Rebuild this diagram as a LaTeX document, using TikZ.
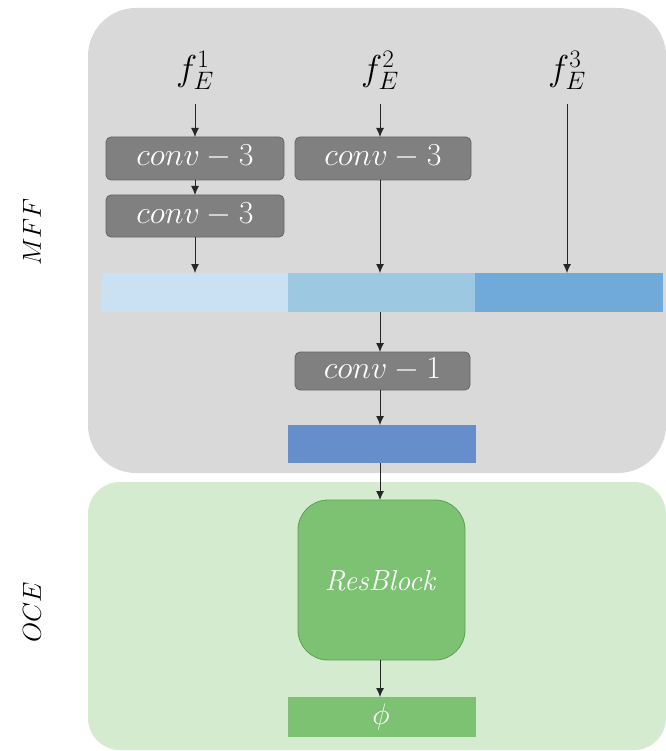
\RequirePackage{fix-cm}
\documentclass[tikz,border=0pt]{standalone}
\usetikzlibrary{arrows.meta}
\definecolor{panelgray}{HTML}{D9D9D9}
\definecolor{panelgreen}{HTML}{D5EBCF}
\definecolor{convfill}{HTML}{808080}
\definecolor{convdraw}{HTML}{666666}
\definecolor{barA}{HTML}{C9E1F2}
\definecolor{barB}{HTML}{9DC8E2}
\definecolor{barC}{HTML}{6FAADA}
\definecolor{barD}{HTML}{668ECB}
\definecolor{resfill}{HTML}{7DC273}
\definecolor{resdraw}{HTML}{5E9E55}
\tikzset{
  convbox/.style={fill=convfill, draw=convdraw, line width=0.8pt, rounded corners=5pt},
  convtext/.style={text=white, font=\fontsize{32}{36}\selectfont, inner sep=0pt},
  conn/.style={-{Latex[length=9pt,width=8pt]}, line width=0.9pt, draw=black!85},
  feat/.style={font=\fontsize{36}{40}\selectfont, inner sep=0pt},
  sidelabel/.style={font=\fontsize{26}{30}\selectfont, rotate=90}
}
\begin{document}
\begin{tikzpicture}[x=1pt,y=-1pt]
  \useasboundingbox (0,0) rectangle (665,751);
  % panels
  \fill[panelgray, rounded corners=48pt] (88,8) rectangle (666,473);
  \fill[panelgreen, rounded corners=32pt] (88,482) rectangle (666,750);
  \node[sidelabel] (mff) at (32,232) {$MFF$};
  \node[sidelabel] (oce) at (32,612) {$OCE$};
  % input features
  \node[feat] (f1) at (195,70) {$f_E^1$};
  \node[feat] (f2) at (380,70) {$f_E^2$};
  \node[feat] (f3) at (567,70) {$f_E^3$};
  \coordinate (f1s) at (195,104);
  \coordinate (f2s) at (380,104);
  \coordinate (f3s) at (567,104);
  % convolutions
  \path[convbox] (106,137) rectangle (284,180);
  \node[convtext] (c1) at (195,157) {$conv-3$};
  \path[convbox] (106,195) rectangle (284,237);
  \node[convtext] (c2) at (195,215) {$conv-3$};
  \path[convbox] (295,137) rectangle (471,180);
  \node[convtext] (c3) at (383,157) {$conv-3$};
  % concatenated feature bar
  \fill[barA] (102,273) rectangle (289,312);
  \fill[barB] (288,273) rectangle (476,312);
  \fill[barC] (475,273) rectangle (663,312);
  \coordinate (b1) at (195,273);
  \coordinate (b2) at (380,273);
  \coordinate (b3) at (567,273);
  \coordinate (b2o) at (380,312);
  % fusion
  \path[convbox] (295,352) rectangle (470,390);
  \node[convtext] (c4) at (382.5,370) {$conv-1$};
  \fill[barD] (288,425) rectangle (476,463);
  \coordinate (d1) at (380,425);
  \coordinate (d2) at (380,463);
  % OCE
  \path[fill=resfill, draw=resdraw, line width=0.8pt, rounded corners=30pt] (298,500) rectangle (465,660);
  \node[text=white, font=\fontsize{29}{32}\selectfont] (rb) at (381.5,580) {$\mathit{ResBlock}$};
  \fill[resfill] (288,697) rectangle (476,737);
  \node[text=white, font=\fontsize{30}{32}\selectfont] (phi) at (381,717) {$\phi$};
  % connectors
  \draw[conn] (f1s) -- (195,137);
  \draw[conn] (195,180) -- (195,195);
  \draw[conn] (195,237) -- (b1);
  \draw[conn] (f2s) -- (380,137);
  \draw[conn] (380,180) -- (b2);
  \draw[conn] (f3s) -- (b3);
  \draw[conn] (b2o) -- (380,352);
  \draw[conn] (380,390) -- (d1);
  \draw[conn] (d2) -- (380,500);
  \draw[conn] (380,660) -- (380,697);
\end{tikzpicture}
\end{document}
